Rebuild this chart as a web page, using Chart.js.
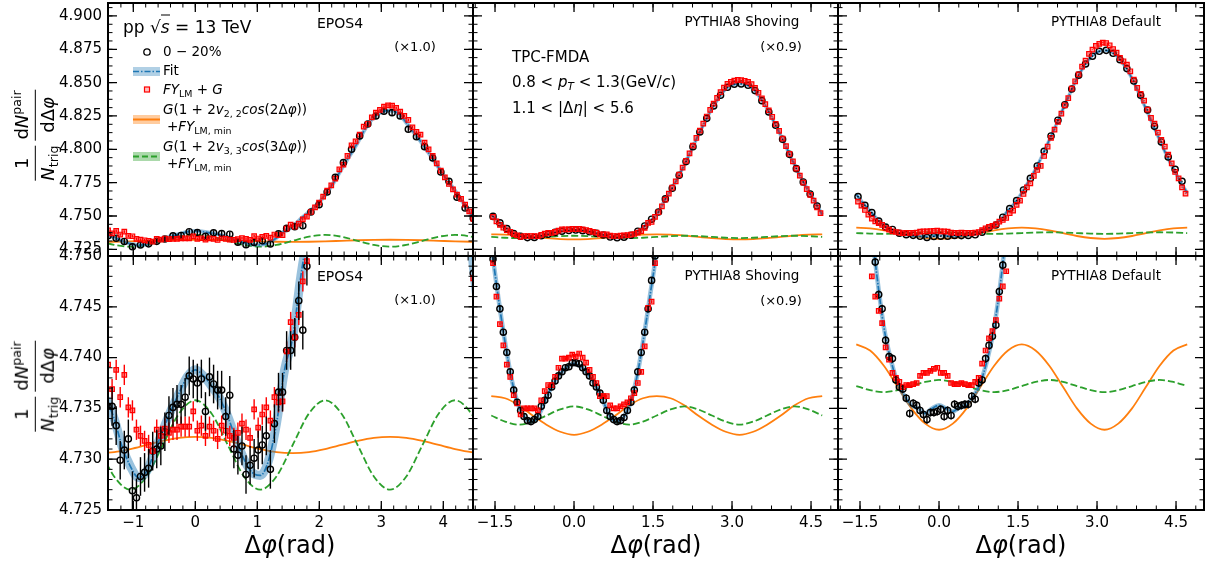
<!DOCTYPE html>
<html lang="en">
<head>
<meta charset="utf-8">
<title>Delta-phi correlations: EPOS4 and PYTHIA8</title>
<script src="https://cdn.jsdelivr.net/npm/chart.js@4.4.1/dist/chart.umd.min.js"></script>
<style>
  html, body { margin: 0; padding: 0; background: #fff; }
  body { position: relative; width: 1210px; height: 565px; overflow: hidden;
         font-family: "DejaVu Sans", sans-serif; color: #000; }
  canvas { position: absolute; }
  .t { position: absolute; white-space: nowrap; line-height: 1; transform: translateY(-50%); }
  .c { transform: translate(-50%, -50%); }
  sub, sup { font-size: 0.7em; line-height: 0; }
  sub { vertical-align: -0.3em; }
  sup { vertical-align: 0.55em; }
  .ytitle { position: absolute; display: flex; align-items: center; gap: 5px; font-size: 18px;
            line-height: 1.15; white-space: nowrap; transform: translate(-50%, -50%) rotate(-90deg); }
  .frac { display: inline-flex; flex-direction: column; text-align: center; }
  .frac .n { border-bottom: 1.5px solid #000; padding: 0 1px 2px; }
  .frac .d { padding-top: 2px; }
  .xtitle { position: absolute; font-size: 24px; line-height: 1; white-space: nowrap;
            transform: translate(-50%, -50%); }
</style>
</head>
<body>
<div id="plots"></div>

<svg style="position:absolute;left:0;top:0" width="200" height="180">
  <circle cx="147" cy="52" r="3.2" fill="none" stroke="#000" stroke-width="1.3"/>
  <rect x="133" y="67" width="27" height="9" fill="rgba(31,119,180,0.35)"/>
  <line x1="133" y1="71.5" x2="160" y2="71.5" stroke="#1f77b4" stroke-width="1.6" stroke-dasharray="6 2 1.5 2"/>
  <rect x="144.5" y="87" width="5" height="5" fill="rgba(255,0,0,0.25)" stroke="#f00" stroke-width="1.2"/>
  <rect x="133" y="115" width="27" height="9" fill="rgba(255,127,14,0.4)"/>
  <line x1="133" y1="119.5" x2="160" y2="119.5" stroke="#ff7f0e" stroke-width="2"/>
  <rect x="133" y="152" width="27" height="9" fill="rgba(44,160,44,0.4)"/>
  <line x1="133" y1="156.5" x2="160" y2="156.5" stroke="#2ca02c" stroke-width="2" stroke-dasharray="6 3"/>
</svg>

<div class="t" style="left:123px;top:27px;font-size:17px">pp √<span style="border-top:1.2px solid #000;padding-top:1px"><i>s</i></span> = 13 TeV</div>
<div class="t" style="left:163px;top:52px;font-size:13.5px">0 − 20%</div>
<div class="t" style="left:163px;top:71px;font-size:13.5px">Fit</div>
<div class="t" style="left:163px;top:90px;font-size:13.5px"><i>FY</i><sub>LM</sub> + <i>G</i></div>
<div class="t" style="left:163px;top:110px;font-size:13.5px"><i>G</i>(1 + 2<i>v</i><sub>2, 2</sub><i>cos</i>(2Δ<i>φ</i>))</div>
<div class="t" style="left:167px;top:127px;font-size:13.5px">+<i>FY</i><sub>LM, min</sub></div>
<div class="t" style="left:163px;top:147px;font-size:13.5px"><i>G</i>(1 + 2<i>v</i><sub>3, 3</sub><i>cos</i>(3Δ<i>φ</i>))</div>
<div class="t" style="left:167px;top:164px;font-size:13.5px">+<i>FY</i><sub>LM, min</sub></div>

<div class="t c" style="left:340px;top:23px;font-size:14px">EPOS4</div>
<div class="t c" style="left:415px;top:46px;font-size:13px">(×1.0)</div>
<div class="t c" style="left:340px;top:276px;font-size:14px">EPOS4</div>
<div class="t c" style="left:415px;top:299px;font-size:13px">(×1.0)</div>
<div class="t c" style="left:742px;top:22px;font-size:13.5px">PYTHIA8 Shoving</div>
<div class="t c" style="left:781px;top:46px;font-size:13px">(×0.9)</div>
<div class="t c" style="left:742px;top:276px;font-size:13.5px">PYTHIA8 Shoving</div>
<div class="t c" style="left:781px;top:300px;font-size:13px">(×0.9)</div>
<div class="t c" style="left:1106px;top:22px;font-size:13.5px">PYTHIA8 Default</div>
<div class="t c" style="left:1106px;top:276px;font-size:13.5px">PYTHIA8 Default</div>

<div class="t" style="left:512px;top:57px;font-size:15px">TPC-FMDA</div>
<div class="t" style="left:512px;top:82px;font-size:15px">0.8 &lt; <i>p</i><sub><i>T</i></sub> &lt; 1.3(GeV/<i>c</i>)</div>
<div class="t" style="left:512px;top:108px;font-size:15px">1.1 &lt; |Δ<i>η</i>| &lt; 5.6</div>

<div class="ytitle" style="left:35px;top:135px">
  <span class="frac"><span class="n">1</span><span class="d"><i>N</i><sub>trig</sub></span></span>
  <span class="frac"><span class="n">d<i>N</i><sup>pair</sup></span><span class="d">dΔ<i>φ</i></span></span>
</div>
<div class="ytitle" style="left:35px;top:386px">
  <span class="frac"><span class="n">1</span><span class="d"><i>N</i><sub>trig</sub></span></span>
  <span class="frac"><span class="n">d<i>N</i><sup>pair</sup></span><span class="d">dΔ<i>φ</i></span></span>
</div>

<div class="xtitle" style="left:290px;top:545px">Δ<i>φ</i>(rad)</div>
<div class="xtitle" style="left:656px;top:545px">Δ<i>φ</i>(rad)</div>
<div class="xtitle" style="left:1021px;top:545px">Δ<i>φ</i>(rad)</div>

<script>
// bin centres (rad) of the correlation histograms
const PHI_BINS = [
  -1.538, -1.473, -1.407, -1.342, -1.276, -1.211, -1.145, -1.080, -1.014, -0.949,
  -0.884, -0.818, -0.753, -0.687, -0.622, -0.556, -0.491, -0.425, -0.360, -0.295,
  -0.229, -0.164, -0.098, -0.033, 0.033, 0.098, 0.164, 0.229, 0.295, 0.360,
  0.425, 0.491, 0.556, 0.622, 0.687, 0.753, 0.818, 0.884, 0.949, 1.014,
  1.080, 1.145, 1.211, 1.276, 1.342, 1.407, 1.473, 1.538, 1.604, 1.669,
  1.734, 1.800, 1.865, 1.931, 1.996, 2.062, 2.127, 2.193, 2.258, 2.323,
  2.389, 2.454, 2.520, 2.585, 2.651, 2.716, 2.782, 2.847, 2.913, 2.978,
  3.043, 3.109, 3.174, 3.240, 3.305, 3.371, 3.436, 3.502, 3.567, 3.632,
  3.698, 3.763, 3.829, 3.894, 3.960, 4.025, 4.091, 4.156, 4.221, 4.287,
  4.352, 4.418, 4.483, 4.549, 4.614, 4.680
];
// sampling of the fit curve
const PHI_FIT = [
  -1.571, -1.440, -1.309, -1.178, -1.047, -0.916, -0.785, -0.654, -0.524, -0.393,
  -0.262, -0.131, 0.000, 0.131, 0.262, 0.393, 0.524, 0.654, 0.785, 0.916,
  1.047, 1.178, 1.309, 1.440, 1.571, 1.702, 1.833, 1.963, 2.094, 2.225,
  2.356, 2.487, 2.618, 2.749, 2.880, 3.011, 3.142, 3.272, 3.403, 3.534,
  3.665, 3.796, 3.927, 4.058, 4.189, 4.320, 4.451, 4.581, 4.712
];
// sampling of the flow-modulation curves
const PHI_CURVE = [
  -1.571, -1.309, -1.047, -0.785, -0.524, -0.262, 0.000, 0.262, 0.524, 0.785,
  1.047, 1.309, 1.571, 1.833, 2.094, 2.356, 2.618, 2.880, 3.142, 3.403,
  3.665, 3.927, 4.189, 4.451, 4.712
];

// ---- EPOS4 ----
const EPOS_DATA = [
  4.7380, 4.7360, 4.7352, 4.7352, 4.7333, 4.7299, 4.7309, 4.7320, 4.7269, 4.7262,
  4.7283, 4.7287, 4.7291, 4.7308, 4.7310, 4.7313, 4.7327, 4.7343, 4.7351, 4.7354,
  4.7354, 4.7361, 4.7382, 4.7379, 4.7375, 4.7379, 4.7347, 4.7381, 4.7374, 4.7368,
  4.7368, 4.7342, 4.7363, 4.7310, 4.7304, 4.7313, 4.7285, 4.7294, 4.7301, 4.7309,
  4.7314, 4.7323, 4.7290, 4.7335, 4.7366, 4.7366, 4.7407, 4.7407, 4.7420, 4.7456,
  4.7427, 4.7490, 4.7530, 4.7570, 4.7585, 4.7622, 4.7680, 4.7730, 4.7790, 4.7835,
  4.7900, 4.7935, 4.8000, 4.8055, 4.8100, 4.8125, 4.8190, 4.8215, 4.8250, 4.8275,
  4.8285, 4.8282, 4.8275, 4.8262, 4.8250, 4.8205, 4.8150, 4.8125, 4.8095, 4.8080,
  4.8020, 4.7985, 4.7935, 4.7890, 4.7830, 4.7790, 4.7760, 4.7715, 4.7640, 4.7595,
  4.7560, 4.7530, 4.7483, 4.7440, 4.7400, 4.7370
];
const EPOS_FY = [
  4.7405, 4.7400, 4.7393, 4.7369, 4.7388, 4.7361, 4.7383, 4.7351, 4.7348, 4.7329,
  4.7323, 4.7318, 4.7314, 4.7308, 4.7329, 4.7323, 4.7330, 4.7326, 4.7329, 4.7329,
  4.7332, 4.7332, 4.7332, 4.7347, 4.7328, 4.7333, 4.7323, 4.7332, 4.7328, 4.7320,
  4.7333, 4.7328, 4.7323, 4.7321, 4.7326, 4.7335, 4.7329, 4.7321, 4.7349, 4.7331,
  4.7344, 4.7351, 4.7338, 4.7361, 4.7356, 4.7357, 4.7406, 4.7435, 4.7420, 4.7442,
  4.7475, 4.7495, 4.7530, 4.7565, 4.7600, 4.7645, 4.7690, 4.7730, 4.7780, 4.7850,
  4.7885, 4.7950, 4.8030, 4.8060, 4.8110, 4.8170, 4.8190, 4.8240, 4.8275, 4.8295,
  4.8320, 4.8330, 4.8328, 4.8310, 4.8282, 4.8250, 4.8220, 4.8165, 4.8130, 4.8110,
  4.8050, 4.8000, 4.7950, 4.7895, 4.7840, 4.7790, 4.7740, 4.7700, 4.7660, 4.7628,
  4.7585, 4.7535, 4.7478, 4.7435, 4.7410, 4.7400
];
const EPOS_FIT = [
  4.7380, 4.7360, 4.7340, 4.7312, 4.7293, 4.7282, 4.7288, 4.7308, 4.7328, 4.7348,
  4.7365, 4.7381, 4.7388, 4.7382, 4.7372, 4.7360, 4.7342, 4.7320, 4.7300, 4.7287,
  4.7284, 4.7298, 4.7335, 4.7388, 4.7420, 4.7480, 4.7530, 4.7585, 4.7655, 4.7745,
  4.7850, 4.7950, 4.8050, 4.8160, 4.8240, 4.8280, 4.8290, 4.8270, 4.8200, 4.8120,
  4.8040, 4.7950, 4.7860, 4.7770, 4.7690, 4.7600, 4.7510, 4.7440, 4.7390
];
const EPOS_V22 = [
  4.7306, 4.7307, 4.7310, 4.7314, 4.7318, 4.7321, 4.7322, 4.7321, 4.7318, 4.7314,
  4.7310, 4.7307, 4.7306, 4.7307, 4.7310, 4.7314, 4.7318, 4.7321, 4.7322, 4.7321,
  4.7318, 4.7314, 4.7310, 4.7307, 4.7306
];
const EPOS_V33 = [
  4.7314, 4.7283, 4.7270, 4.7283, 4.7314, 4.7345, 4.7358, 4.7345, 4.7314, 4.7283,
  4.7270, 4.7283, 4.7314, 4.7345, 4.7358, 4.7345, 4.7314, 4.7283, 4.7270, 4.7283,
  4.7314, 4.7345, 4.7358, 4.7345, 4.7314
];
const EPOS_DATA_ERR = 0.0019;
const EPOS_FY_ERR = 0.0010;

// ---- PYTHIA8 Shoving ----
const SHOV_DATA = [
  4.7497, 4.7470, 4.7448, 4.7425, 4.7405, 4.7386, 4.7368, 4.7356, 4.7348, 4.7342,
  4.7338, 4.7337, 4.7339, 4.7342, 4.7352, 4.7358, 4.7363, 4.7371, 4.7377, 4.7382,
  4.7386, 4.7390, 4.7391, 4.7395, 4.7395, 4.7394, 4.7390, 4.7386, 4.7382, 4.7375,
  4.7371, 4.7365, 4.7358, 4.7348, 4.7342, 4.7339, 4.7337, 4.7338, 4.7341, 4.7348,
  4.7356, 4.7368, 4.7386, 4.7405, 4.7425, 4.7448, 4.7476, 4.7500,
  4.7530, 4.7575, 4.7628, 4.7665, 4.7708, 4.7755, 4.7805, 4.7855, 4.7908, 4.7962,
  4.8020, 4.8075, 4.8130, 4.8180, 4.8232, 4.8280, 4.8325, 4.8365, 4.8405, 4.8440,
  4.8465, 4.8480, 4.8488, 4.8490, 4.8490, 4.8488, 4.8480, 4.8465, 4.8440, 4.8405,
  4.8365, 4.8325, 4.8280, 4.8232, 4.8180, 4.8130, 4.8075, 4.8020, 4.7962, 4.7908,
  4.7855, 4.7805, 4.7755, 4.7708, 4.7665, 4.7628, 4.7575, 4.7530
];
const SHOV_FY = [
  4.7493, 4.7460, 4.7433, 4.7412, 4.7393, 4.7381, 4.7363, 4.7355, 4.7344, 4.7350,
  4.7350, 4.7350, 4.7350, 4.7348, 4.7358, 4.7367, 4.7373, 4.7373, 4.7381, 4.7390,
  4.7399, 4.7399, 4.7400, 4.7403, 4.7401, 4.7404, 4.7400, 4.7395, 4.7388, 4.7381,
  4.7375, 4.7362, 4.7362, 4.7362, 4.7353, 4.7350, 4.7350, 4.7352, 4.7354, 4.7356,
  4.7360, 4.7365, 4.7375, 4.7386, 4.7411, 4.7449, 4.7455, 4.7493,
  4.7528, 4.7572, 4.7622, 4.7668, 4.7712, 4.7760, 4.7810, 4.7862, 4.7914, 4.7970,
  4.8028, 4.8085, 4.8140, 4.8192, 4.8246, 4.8296, 4.8342, 4.8385, 4.8428, 4.8463,
  4.8490, 4.8506, 4.8515, 4.8520, 4.8518, 4.8514, 4.8505, 4.8488, 4.8460, 4.8424,
  4.8382, 4.8338, 4.8292, 4.8244, 4.8190, 4.8138, 4.8080, 4.8024, 4.7965, 4.7910,
  4.7855, 4.7802, 4.7750, 4.7702, 4.7658, 4.7615, 4.7565, 4.7522
];
const SHOV_FIT = [
  4.7510, 4.7460, 4.7415, 4.7377, 4.7352, 4.7340, 4.7337, 4.7345, 4.7361, 4.7374,
  4.7384, 4.7391, 4.7394, 4.7391, 4.7384, 4.7374, 4.7361, 4.7345, 4.7337, 4.7340,
  4.7352, 4.7377, 4.7415, 4.7460, 4.7510, 4.7605, 4.7690, 4.7780, 4.7882, 4.7990,
  4.8102, 4.8205, 4.8305, 4.8385, 4.8452, 4.8485, 4.8491, 4.8485, 4.8452, 4.8385,
  4.8305, 4.8205, 4.8102, 4.7990, 4.7882, 4.7780, 4.7690, 4.7605, 4.7510
];
const SHOV_V22 = [
  4.7362, 4.7360, 4.7353, 4.7343, 4.7334, 4.7327, 4.7324, 4.7327, 4.7334, 4.7343,
  4.7353, 4.7360, 4.7362, 4.7360, 4.7353, 4.7343, 4.7334, 4.7327, 4.7324, 4.7327,
  4.7334, 4.7343, 4.7353, 4.7360, 4.7362
];
const SHOV_V33 = [
  4.7343, 4.7337, 4.7334, 4.7337, 4.7343, 4.7349, 4.7352, 4.7349, 4.7343, 4.7337,
  4.7334, 4.7337, 4.7343, 4.7349, 4.7352, 4.7349, 4.7343, 4.7337, 4.7334, 4.7337,
  4.7343, 4.7349, 4.7352, 4.7349, 4.7343
];
const SHOV_DATA_ERR = 0.0003;
const SHOV_FY_ERR = 0.00015;

// ---- PYTHIA8 Default ----
const DEF_DATA = [
  4.7645, 4.7610, 4.7580, 4.7553, 4.7525, 4.7494, 4.7462, 4.7448, 4.7417, 4.7401,
  4.7399, 4.7378, 4.7371, 4.7369, 4.7360, 4.7345, 4.7355, 4.7353, 4.7348, 4.7344,
  4.7339, 4.7346, 4.7346, 4.7347, 4.7349, 4.7342, 4.7348, 4.7343, 4.7354, 4.7352,
  4.7353, 4.7354, 4.7354, 4.7362, 4.7359, 4.7375, 4.7378, 4.7399, 4.7412, 4.7421,
  4.7432, 4.7465, 4.7491, 4.7526, 4.7555, 4.7583, 4.7615, 4.7650,
  4.7695, 4.7738, 4.7782, 4.7828, 4.7875, 4.7925, 4.7985, 4.8043, 4.8100, 4.8158,
  4.8218, 4.8276, 4.8334, 4.8392, 4.8452, 4.8505, 4.8556, 4.8600, 4.8640, 4.8672,
  4.8698, 4.8720, 4.8735, 4.8742, 4.8742, 4.8735, 4.8720, 4.8698, 4.8672, 4.8640,
  4.8605, 4.8560, 4.8512, 4.8458, 4.8405, 4.8355, 4.8295, 4.8235, 4.8172, 4.8112,
  4.8055, 4.7998, 4.7942, 4.7892, 4.7850, 4.7805, 4.7760, 4.7710
];
const DEF_FY = [
  4.7608, 4.7578, 4.7545, 4.7510, 4.7480, 4.7460, 4.7446, 4.7434, 4.7410, 4.7398,
  4.7385, 4.7380, 4.7376, 4.7371, 4.7373, 4.7373, 4.7374, 4.7375, 4.7382, 4.7385,
  4.7385, 4.7387, 4.7389, 4.7390, 4.7385, 4.7385, 4.7382, 4.7375, 4.7374, 4.7374,
  4.7375, 4.7374, 4.7373, 4.7373, 4.7376, 4.7380, 4.7394, 4.7407, 4.7419, 4.7426,
  4.7437, 4.7458, 4.7470, 4.7485, 4.7522, 4.7540, 4.7583, 4.7615,
  4.7665, 4.7715, 4.7745, 4.7800, 4.7845, 4.7875, 4.7950, 4.8020, 4.8085, 4.8148,
  4.8205, 4.8268, 4.8330, 4.8383, 4.8455, 4.8510, 4.8562, 4.8620, 4.8665, 4.8715,
  4.8748, 4.8775, 4.8790, 4.8800, 4.8797, 4.8780, 4.8752, 4.8725, 4.8685, 4.8660,
  4.8635, 4.8585, 4.8522, 4.8460, 4.8415, 4.8365, 4.8298, 4.8235, 4.8192, 4.8125,
  4.8070, 4.8020, 4.7960, 4.7895, 4.7830, 4.7782, 4.7715, 4.7668
];
const DEF_FIT = [
  4.7662, 4.7595, 4.7538, 4.7480, 4.7430, 4.7398, 4.7375, 4.7362, 4.7353, 4.7350,
  4.7345, 4.7350, 4.7353, 4.7350, 4.7347, 4.7351, 4.7353, 4.7362, 4.7375, 4.7398,
  4.7430, 4.7478, 4.7540, 4.7598, 4.7672, 4.7760, 4.7852, 4.7955, 4.8070, 4.8185,
  4.8305, 4.8420, 4.8530, 4.8620, 4.8690, 4.8730, 4.8742, 4.8730, 4.8690, 4.8620,
  4.8530, 4.8420, 4.8305, 4.8185, 4.8070, 4.7955, 4.7852, 4.7760, 4.7672
];
const DEF_V22 = [
  4.7413, 4.7407, 4.7392, 4.7371, 4.7350, 4.7335, 4.7329, 4.7335, 4.7350, 4.7371,
  4.7392, 4.7407, 4.7413, 4.7407, 4.7392, 4.7371, 4.7350, 4.7335, 4.7329, 4.7335,
  4.7350, 4.7371, 4.7392, 4.7407, 4.7413
];
const DEF_V33 = [
  4.7372, 4.7368, 4.7366, 4.7368, 4.7372, 4.7376, 4.7378, 4.7376, 4.7372, 4.7368,
  4.7366, 4.7368, 4.7372, 4.7376, 4.7378, 4.7376, 4.7372, 4.7368, 4.7366, 4.7368,
  4.7372, 4.7376, 4.7378, 4.7376, 4.7372
];
const DEF_DATA_ERR = 0.0004;
const DEF_FY_ERR = 0.0002;

// axis ticks
const Y_TICKS_TOP = [4.725, 4.750, 4.775, 4.800, 4.825, 4.850, 4.875, 4.900];
const Y_TICKS_BOTTOM = [4.725, 4.730, 4.735, 4.740, 4.745, 4.750];
const X_TICKS_EPOS = [-1, 0, 1, 2, 3, 4];
const X_TICKS_PYTHIA = [-1.5, 0, 1.5, 3, 4.5];

// ---------------------------------------------------------------
Chart.defaults.font.family = '"DejaVu Sans", sans-serif';
Chart.defaults.color = '#000';

const COLUMNS = [
  { data: EPOS_DATA, fy: EPOS_FY, fit: EPOS_FIT, v22: EPOS_V22, v33: EPOS_V33,
    dataErr: EPOS_DATA_ERR, fyErr: EPOS_FY_ERR, xTicks: X_TICKS_EPOS, digits: 0,
    xMin: -1.408, xMax: 4.479, xMajor: 1, xMinor: 0.2, band: [4, 9] },
  { data: SHOV_DATA, fy: SHOV_FY, fit: SHOV_FIT, v22: SHOV_V22, v33: SHOV_V33,
    dataErr: SHOV_DATA_ERR, fyErr: SHOV_FY_ERR, xTicks: X_TICKS_PYTHIA, digits: 1,
    xMin: -1.918, xMax: 5.012, xMajor: 1.5, xMinor: 0.375, band: [3.5, 4.5] },
  { data: DEF_DATA, fy: DEF_FY, fit: DEF_FIT, v22: DEF_V22, v33: DEF_V33,
    dataErr: DEF_DATA_ERR, fyErr: DEF_FY_ERR, xTicks: X_TICKS_PYTHIA, digits: 1,
    xMin: -1.918, xMax: 5.031, xMajor: 1.5, xMinor: 0.375, band: [3.5, 4.5] }
];
const ROWS = [
  { min: 4.7200, max: 4.9097, ticks: Y_TICKS_TOP, major: 0.025, minor: 0.00625 },
  { min: 4.725, max: 4.750, ticks: Y_TICKS_BOTTOM, major: 0.005, minor: 0.001 }
];
const COL_EDGES = [[108, 473], [473, 838], [838, 1204]];
const ROW_EDGES = [[3, 256], [256, 510]];
const M = 20, Y_AXIS_W = 108, X_AXIS_H = 55;

const pts = (xs, ys) => ys.map((y, i) => ({ x: xs[i], y }));
const fmtX = (v, digits) => (v < 0 ? '\u2212' : '') + Math.abs(v).toFixed(digits);

// vertical error bars drawn over the markers
const errorBars = {
  id: 'errorBars',
  afterDatasetsDraw(chart) {
    const { ctx, chartArea: a, scales: { y } } = chart;
    ctx.save();
    ctx.beginPath();
    ctx.rect(a.left, a.top, a.right - a.left, a.bottom - a.top);
    ctx.clip();
    chart.data.datasets.forEach((ds, di) => {
      if (!ds.errorBar) return;
      ctx.strokeStyle = ds.pointBorderColor;
      ctx.lineWidth = 1.4;
      chart.getDatasetMeta(di).data.forEach((pt, j) => {
        const v = ds.data[j].y;
        ctx.beginPath();
        ctx.moveTo(pt.x, y.getPixelForValue(v - ds.errorBar));
        ctx.lineTo(pt.x, y.getPixelForValue(v + ds.errorBar));
        ctx.stroke();
      });
    });
    ctx.restore();
  }
};

// frame plus inward major/minor ticks on all four sides
const frameTicks = {
  id: 'frameTicks',
  afterDraw(chart, args, opts) {
    const { ctx, chartArea: a, scales: { x, y } } = chart;
    ctx.save();
    ctx.strokeStyle = '#000';
    const marks = (scale, step, len, width, onX) => {
      ctx.lineWidth = width;
      const k0 = Math.ceil(scale.min / step - 1e-6);
      const k1 = Math.floor(scale.max / step + 1e-6);
      for (let k = k0; k <= k1; k++) {
        const p = scale.getPixelForValue(k * step);
        ctx.beginPath();
        if (onX) {
          ctx.moveTo(p, a.bottom); ctx.lineTo(p, a.bottom - len);
          ctx.moveTo(p, a.top); ctx.lineTo(p, a.top + len);
        } else {
          ctx.moveTo(a.left, p); ctx.lineTo(a.left + len, p);
          ctx.moveTo(a.right, p); ctx.lineTo(a.right - len, p);
        }
        ctx.stroke();
      }
    };
    marks(x, opts.xMinor, 4.5, 1, true);
    marks(x, opts.xMajor, 9, 1.3, true);
    marks(y, opts.yMinor, 4.5, 1, false);
    marks(y, opts.yMajor, 9, 1.3, false);
    ctx.lineWidth = 2;
    ctx.strokeRect(a.left, a.top, a.right - a.left, a.bottom - a.top);
    ctx.restore();
  }
};

const holder = document.getElementById('plots');

ROWS.forEach((row, r) => COLUMNS.forEach((col, c) => {
  const [L, R] = COL_EDGES[c];
  const [T, B] = ROW_EDGES[r];
  const showX = r === 1, showY = c === 0;
  const cl = showY ? 0 : L - M;
  const ct = T - M;
  const cr = R + M;
  const cb = showX ? 565 : B + M;

  const cv = document.createElement('canvas');
  cv.width = cr - cl;
  cv.height = cb - ct;
  cv.style.left = cl + 'px';
  cv.style.top = ct + 'px';
  holder.appendChild(cv);

  // the upper row shows every second data point
  const black = pts(PHI_BINS, col.data).filter((_, i) => r === 1 || i % 2 === 0);

  new Chart(cv, {
    type: 'line',
    data: {
      datasets: [
        { label: 'FY_LM + G', data: pts(PHI_BINS, col.fy), showLine: false,
          pointStyle: 'rect', pointRadius: 3.2, pointBorderWidth: 1.2,
          pointBorderColor: '#ff0000', pointBackgroundColor: 'rgba(255,0,0,0.4)',
          errorBar: col.fyErr },
        { label: '0-20%', data: black, showLine: false,
          pointStyle: 'circle', pointRadius: 3.1, pointBorderWidth: 1.4,
          pointBorderColor: '#000000', pointBackgroundColor: 'rgba(0,0,0,0)',
          errorBar: col.dataErr },
        { label: 'Fit', data: pts(PHI_FIT, col.fit), borderColor: '#1f77b4',
          borderWidth: 1.7, borderDash: [7, 1.5, 1.5, 1.5], pointRadius: 0,
          tension: 0.4, cubicInterpolationMode: 'monotone' },
        { label: 'Fit band', data: pts(PHI_FIT, col.fit), borderColor: 'rgba(31,119,180,0.45)',
          borderWidth: col.band[r], pointRadius: 0,
          tension: 0.4, cubicInterpolationMode: 'monotone' },
        { label: 'v33', data: pts(PHI_CURVE, col.v33), borderColor: '#2ca02c',
          borderWidth: 1.8, borderDash: [7, 3], pointRadius: 0,
          tension: 0.4, cubicInterpolationMode: 'monotone' },
        { label: 'v22', data: pts(PHI_CURVE, col.v22), borderColor: '#ff7f0e',
          borderWidth: 1.8, pointRadius: 0,
          tension: 0.4, cubicInterpolationMode: 'monotone' }
      ]
    },
    options: {
      responsive: false,
      animation: false,
      events: [],
      devicePixelRatio: 1,
      layout: { padding: { left: showY ? 0 : M, top: M, right: M,
                           bottom: showX ? cb - B - X_AXIS_H : M } },
      plugins: {
        legend: { display: false },
        tooltip: { enabled: false },
        frameTicks: { xMajor: col.xMajor, xMinor: col.xMinor, yMajor: row.major, yMinor: row.minor }
      },
      scales: {
        x: {
          type: 'linear', min: col.xMin, max: col.xMax, display: showX,
          grid: { display: false, drawTicks: false }, border: { display: false },
          ticks: { font: { size: 15 }, padding: 4, maxRotation: 0, autoSkip: false,
                   callback: v => fmtX(v, col.digits) },
          afterBuildTicks: s => { s.ticks = col.xTicks.map(v => ({ value: v })); },
          afterFit: s => { if (showX) s.height = X_AXIS_H; }
        },
        y: {
          type: 'linear', min: row.min, max: row.max, display: showY,
          grid: { display: false, drawTicks: false }, border: { display: false },
          ticks: { font: { size: 15 }, padding: 6, autoSkip: false,
                   callback: v => v.toFixed(3) },
          afterBuildTicks: s => { s.ticks = row.ticks.map(v => ({ value: v })); },
          afterFit: s => { if (showY) s.width = Y_AXIS_W; }
        }
      }
    },
    plugins: [errorBars, frameTicks]
  });
}));
</script>
</body>
</html>
